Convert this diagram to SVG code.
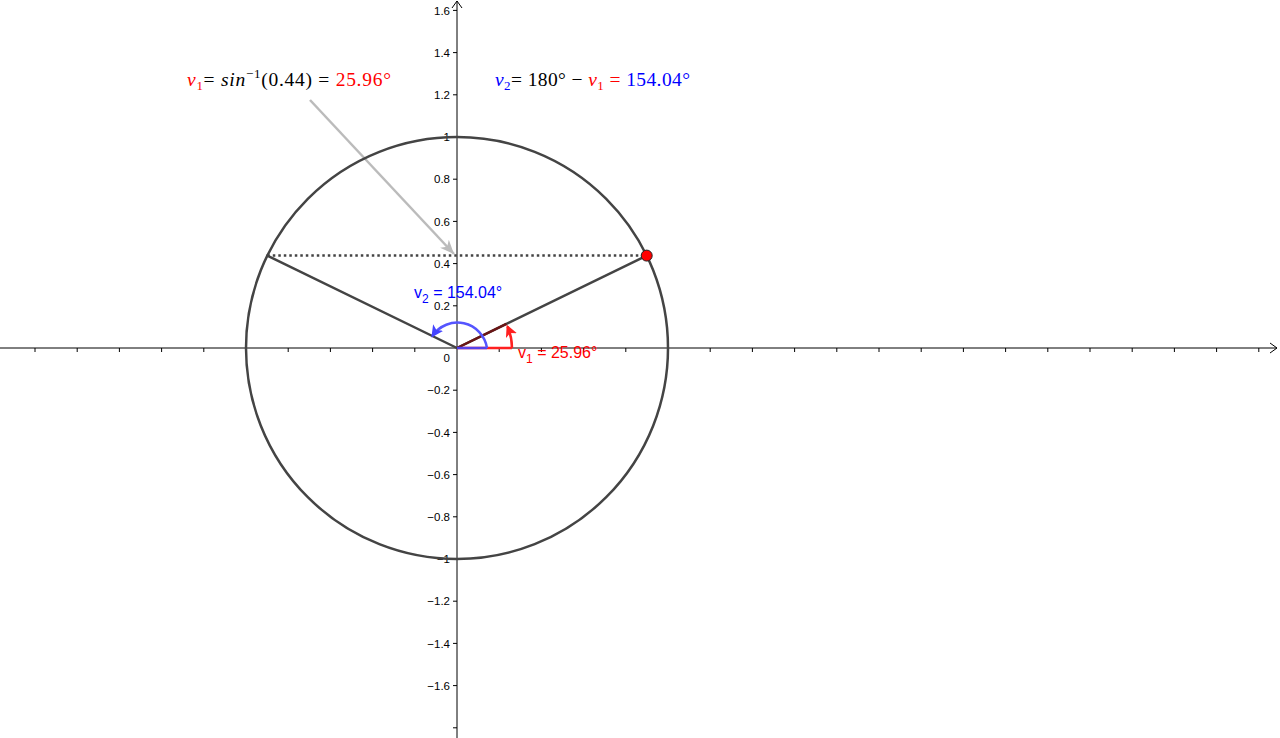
<svg xmlns="http://www.w3.org/2000/svg" width="1280" height="738" viewBox="0 0 1280 738">
<style>
.ax{stroke:#000;stroke-width:1;fill:none}
.tk{stroke:#000;stroke-width:1}
.yl{font-family:"Liberation Sans",Arial,sans-serif;font-size:11.5px;fill:#000;text-anchor:end}
.geo{stroke:#444;stroke-width:2.5;fill:none;stroke-linecap:round}
.tex{font-family:"Liberation Serif","DejaVu Serif",serif;font-size:19.5px;fill:#000}
.lab{font-family:"Liberation Sans",Arial,sans-serif;font-size:16px}
</style>
<defs>
<marker id="axArr" markerWidth="10" markerHeight="12" refX="8" refY="6" orient="auto" markerUnits="userSpaceOnUse">
<path d="M1,1 L8,6 L1,11" fill="none" stroke="#000" stroke-width="1"/>
</marker>
<marker id="grayArr" markerWidth="16" markerHeight="14" refX="14" refY="7" orient="auto" markerUnits="userSpaceOnUse">
<path d="M0,1 L14,7 L0,13 L4,7 Z" fill="#bbb"/>
</marker>
<marker id="blueArr" markerWidth="14" markerHeight="12" refX="10" refY="6" orient="auto" markerUnits="userSpaceOnUse">
<path d="M0,0 L12,6 L0,12 L3,6 Z" fill="#4444ff"/>
</marker>
<marker id="redArr" markerWidth="14" markerHeight="12" refX="10" refY="6" orient="auto" markerUnits="userSpaceOnUse">
<path d="M0,0 L12,6 L0,12 L3,6 Z" fill="#ff2020"/>
</marker>
</defs>

<g id="axes">
<line class="ax" x1="0" y1="348" x2="1277" y2="348" marker-end="url(#axArr)"/>
<line class="ax" x1="457" y1="738" x2="457" y2="1" marker-end="url(#axArr)"/>
<g id="xticks" class="tk">
<line x1="35" y1="348" x2="35" y2="352"/><line x1="77.2" y1="348" x2="77.2" y2="352"/><line x1="119.4" y1="348" x2="119.4" y2="352"/><line x1="161.6" y1="348" x2="161.6" y2="352"/><line x1="203.8" y1="348" x2="203.8" y2="352"/><line x1="246" y1="348" x2="246" y2="352"/><line x1="288.2" y1="348" x2="288.2" y2="352"/><line x1="330.4" y1="348" x2="330.4" y2="352"/><line x1="372.6" y1="348" x2="372.6" y2="352"/><line x1="414.8" y1="348" x2="414.8" y2="352"/>
<line x1="499.2" y1="348" x2="499.2" y2="352"/><line x1="541.4" y1="348" x2="541.4" y2="352"/><line x1="583.6" y1="348" x2="583.6" y2="352"/><line x1="625.8" y1="348" x2="625.8" y2="352"/><line x1="668" y1="348" x2="668" y2="352"/><line x1="710.2" y1="348" x2="710.2" y2="352"/><line x1="752.4" y1="348" x2="752.4" y2="352"/><line x1="794.6" y1="348" x2="794.6" y2="352"/><line x1="836.8" y1="348" x2="836.8" y2="352"/><line x1="879" y1="348" x2="879" y2="352"/><line x1="921.2" y1="348" x2="921.2" y2="352"/><line x1="963.4" y1="348" x2="963.4" y2="352"/><line x1="1005.6" y1="348" x2="1005.6" y2="352"/><line x1="1047.8" y1="348" x2="1047.8" y2="352"/><line x1="1090" y1="348" x2="1090" y2="352"/><line x1="1132.2" y1="348" x2="1132.2" y2="352"/><line x1="1174.4" y1="348" x2="1174.4" y2="352"/><line x1="1216.6" y1="348" x2="1216.6" y2="352"/><line x1="1258.8" y1="348" x2="1258.8" y2="352"/>
</g>
<g id="yticks" class="tk">
<line x1="453" y1="10.4" x2="457" y2="10.4"/><line x1="453" y1="52.6" x2="457" y2="52.6"/><line x1="453" y1="94.8" x2="457" y2="94.8"/><line x1="453" y1="137" x2="457" y2="137"/><line x1="453" y1="179.2" x2="457" y2="179.2"/><line x1="453" y1="221.4" x2="457" y2="221.4"/><line x1="453" y1="263.6" x2="457" y2="263.6"/><line x1="453" y1="305.8" x2="457" y2="305.8"/>
<line x1="453" y1="390.2" x2="457" y2="390.2"/><line x1="453" y1="432.4" x2="457" y2="432.4"/><line x1="453" y1="474.6" x2="457" y2="474.6"/><line x1="453" y1="516.8" x2="457" y2="516.8"/><line x1="453" y1="559" x2="457" y2="559"/><line x1="453" y1="601.2" x2="457" y2="601.2"/><line x1="453" y1="643.4" x2="457" y2="643.4"/><line x1="453" y1="685.6" x2="457" y2="685.6"/><line x1="453" y1="727.8" x2="457" y2="727.8"/>
</g>
<g id="ylabels">
<text class="yl" x="450" y="14.6">1.6</text>
<text class="yl" x="450" y="56.8">1.4</text>
<text class="yl" x="450" y="99">1.2</text>
<text class="yl" x="450" y="141.2">1</text>
<text class="yl" x="450" y="183.4">0.8</text>
<text class="yl" x="450" y="225.6">0.6</text>
<text class="yl" x="450" y="267.8">0.4</text>
<text class="yl" x="450" y="310">0.2</text>
<text class="yl" x="450" y="362">0</text>
<text class="yl" x="450" y="394.4">−0.2</text>
<text class="yl" x="450" y="436.6">−0.4</text>
<text class="yl" x="450" y="478.8">−0.6</text>
<text class="yl" x="450" y="521">−0.8</text>
<text class="yl" x="450" y="563.2">−1</text>
<text class="yl" x="450" y="605.4">−1.2</text>
<text class="yl" x="450" y="647.6">−1.4</text>
<text class="yl" x="450" y="689.8">−1.6</text>
</g>
</g>

<g id="connectors">
<line id="dotted" x1="267.3" y1="255.6" x2="646.7" y2="255.6" stroke="#444" stroke-width="2.5" stroke-dasharray="2.5,3"/>
<line id="rayRight" class="geo" x1="457" y1="348" x2="646.7" y2="255.6"/>
<line id="rayLeft" class="geo" x1="457" y1="348" x2="267.3" y2="255.6"/>
<line id="pointer" x1="310" y1="100" x2="454" y2="254" stroke="#bbb" stroke-width="2.5" marker-end="url(#grayArr)"/>
</g>

<g id="unitCircle">
<circle cx="457" cy="348" r="211" class="geo"/>
</g>

<g id="angleV1">
<path d="M457,348 L512,348" stroke="#ff2020" stroke-width="2.5" fill="none"/>
<line x1="457" y1="348" x2="506.4" y2="323.9" stroke="#6a1515" stroke-width="2.5"/>
<path d="M512,348 A55,55 0 0 0 507.5,326.5" stroke="#ff2020" stroke-width="2.5" fill="none" marker-end="url(#redArr)"/>
<text class="lab" x="518" y="358" fill="#ff0000">v<tspan font-size="12" dy="5">1</tspan><tspan dy="-5"> = 25.96°</tspan></text>
</g>

<g id="angleV2">
<path d="M457,348 L487,348" stroke="#4444ff" stroke-width="2.5" fill="none" opacity="0.9"/>
<path d="M487,348 A30,30 0 0 0 432.5,335.8" stroke="#5555ff" stroke-width="2.5" fill="none" marker-end="url(#blueArr)"/>
<text class="lab" x="414" y="298" fill="#0000ff">v<tspan font-size="12" dy="5">2</tspan><tspan dy="-5"> = 154.04°</tspan></text>
</g>

<g id="pointP">
<circle cx="646.7" cy="255.6" r="5.5" fill="#ff0000" stroke="#222" stroke-width="1"/>
</g>

<g id="formula1">
<text class="tex" x="187" y="86" textLength="204" lengthAdjust="spacing"><tspan fill="#ff0000" font-style="italic">v</tspan><tspan fill="#ff0000" font-size="13" dy="4">1</tspan><tspan dy="-4">= </tspan><tspan font-style="italic">sin</tspan><tspan font-size="13" dy="-8">−1</tspan><tspan dy="8">(0.44) = </tspan><tspan fill="#ff0000">25.96°</tspan></text>
</g>

<g id="formula2">
<text class="tex" x="495" y="86" textLength="195" lengthAdjust="spacing"><tspan fill="#0000ff" font-style="italic">v</tspan><tspan fill="#0000ff" font-size="13" dy="4">2</tspan><tspan dy="-4">= 180° − </tspan><tspan fill="#ff0000" font-style="italic">v</tspan><tspan fill="#ff0000" font-size="13" dy="4">1</tspan><tspan fill="#ff0000" dy="-4"> = </tspan><tspan fill="#0000ff">154.04°</tspan></text>
</g>
</svg>
